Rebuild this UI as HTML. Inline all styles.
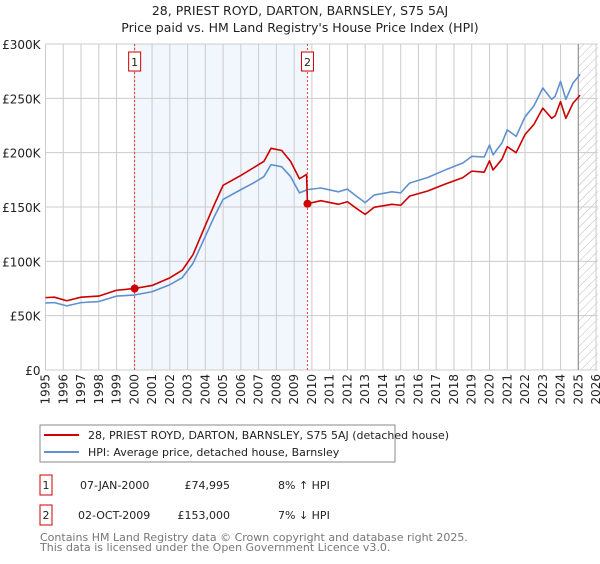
<!DOCTYPE html>
<html><head><meta charset="utf-8"><style>
body{margin:0;background:#fff;font-family:"DejaVu Sans","Liberation Sans",sans-serif;}
svg text{font-family:"DejaVu Sans","Liberation Sans",sans-serif;}
</style></head><body>
<svg id="c" width="600" height="560" xmlns="http://www.w3.org/2000/svg">
<defs><pattern id="hatch" width="6" height="6" patternUnits="userSpaceOnUse" patternTransform="rotate(45)"><line x1="0" y1="0" x2="0" y2="6" stroke="#bbb" stroke-width="1"/></pattern></defs>
<text x="300" y="15" text-anchor="middle" font-size="12.5" fill="#222">28, PRIEST ROYD, DARTON, BARNSLEY, S75 5AJ</text>
<text x="300" y="32" text-anchor="middle" font-size="12.5" fill="#222">Price paid vs. HM Land Registry's House Price Index (HPI)</text>
<g id="plot"></g>
<g>
<rect x="40" y="425" width="355" height="37" fill="#fff" stroke="#888"/>
<line x1="44" y1="435" x2="79" y2="435" stroke="#cc0000" stroke-width="2"/>
<text x="88" y="439" font-size="11" fill="#222">28, PRIEST ROYD, DARTON, BARNSLEY, S75 5AJ (detached house)</text>
<line x1="44" y1="452" x2="79" y2="452" stroke="#6090d0" stroke-width="2"/>
<text x="88" y="456" font-size="11" fill="#222">HPI: Average price, detached house, Barnsley</text>
</g>
<g font-size="11" fill="#222">
<rect x="40" y="475" width="12" height="20" fill="none" stroke="#cc0000"/>
<text x="46" y="489" text-anchor="middle">1</text>
<text x="80" y="489">07-JAN-2000</text>
<text x="230" y="489" text-anchor="end">£74,995</text>
<text x="278" y="489">8% ↑ HPI</text>
</g>
<g font-size="11" fill="#222">
<rect x="40" y="505" width="12" height="20" fill="none" stroke="#cc0000"/>
<text x="46" y="519" text-anchor="middle">2</text>
<text x="78" y="519">02-OCT-2009</text>
<text x="230" y="519" text-anchor="end">£153,000</text>
<text x="278" y="519">7% ↓ HPI</text>
</g>
<text x="40" y="541" font-size="11" fill="#777">Contains HM Land Registry data © Crown copyright and database right 2025.</text>
<text x="40" y="551" font-size="11" fill="#777">This data is licensed under the Open Government Licence v3.0.</text>
</svg>
<script>
const hpiT=[1995,1995.5,1996.2,1997,1998,1999,2000,2001,2002,2002.7,2003.3,2004,2004.5,2005,2006,2006.7,2007.3,2007.7,2008.3,2008.8,2009.3,2009.75,2010.5,2011.5,2012,2012.5,2013,2013.5,2014.5,2015,2015.5,2016.5,2017.5,2018.5,2019,2019.7,2020,2020.2,2020.7,2021,2021.5,2022,2022.5,2023,2023.5,2023.7,2024,2024.3,2024.7,2025,2025.1];
const hpiV=[61.7,62,59,62,63,68,69,72,78.5,85,98,123,141,157,166,172,178,189,187,178,163,166,167.5,164,166.5,160,154,161,164,163,172,177,184,190.5,196.6,196,207,198,209,221,215,233,243,259.5,249,252,265.6,249,264,270,272];
const redT=[1995,1995.5,1996.2,1997,1998,1999,2000.02,2001,2002,2002.7,2003.3,2004,2004.5,2005,2006,2006.7,2007.3,2007.7,2008.3,2008.8,2009.3,2009.7,2009.75,2010.5,2011.5,2012,2012.5,2013,2013.5,2014.5,2015,2015.5,2016.5,2017.5,2018.5,2019,2019.7,2020,2020.2,2020.7,2021,2021.5,2022,2022.5,2023,2023.5,2023.7,2024,2024.3,2024.7,2025,2025.1];
const redV=[66.6,67,63.7,67,68,73.4,75,77.8,84.8,91.8,106,133,152,170,179,186,192,204,202,192,176,180,153,155.8,152.5,154.8,148.8,143.2,149.7,152.5,151.6,160,164.6,171,177,183,182,192.5,184,194,205.5,200,216.7,226,241,231.6,234,247,231.6,245.5,251,253];
const saleT=[2000.02,2009.75];
const saleV=[74.995,153];
const yTicks=[0,50,100,150,200,250,300];
const yLabels=["£0","£50K","£100K","£150K","£200K","£250K","£300K"];
const xYears=[];for(let y=1995;y<=2026;y++)xYears.push(y);
const X0=45.5,PX=17.76,Y0=370,PY=326/300;
const x=t=>X0+(t-1995)*PX, y=v=>Y0-v*PY;
const NS="http://www.w3.org/2000/svg",g=document.getElementById('plot');
function mk(tag,a){const e=document.createElementNS(NS,tag);for(const k in a)e.setAttribute(k,a[k]);g.appendChild(e);return e;}
const L=x(1995),R=x(2026.1);
let e=mk('rect',{x:x(saleT[0]),y:y(300),width:x(saleT[1])-x(saleT[0]),height:y(0)-y(300),fill:'#eef3fc',opacity:0.75});


e=mk('rect',{x:x(2025),y:y(300),width:R-x(2025),height:y(0)-y(300),fill:'url(#hatch)'});


xYears.forEach(yr=>{
 let l=mk('line',{x1:x(yr),x2:x(yr),y1:y(300),y2:y(0),stroke:'#ccc','stroke-width':1});
 
 
 let t=mk('text',{x:0,y:0,'font-size':12,fill:'#222','text-anchor':'end',transform:`translate(${x(yr)+4},${y(0)+4}) rotate(-90)`});
 t.textContent=yr;
 
 
});
yTicks.forEach((v,i)=>{
 let l=mk('line',{x1:L,x2:R,y1:y(v),y2:y(v),stroke:'#ccc','stroke-width':1});
 
 
 let t=mk('text',{x:L-5,y:y(v)+5,'font-size':12,fill:'#222','text-anchor':'end'});
 t.textContent=yLabels[i];
 
 
});
e=mk('line',{x1:x(2025),x2:x(2025),y1:y(300),y2:y(0),stroke:'#888'});


saleT.forEach((t,i)=>{
 let l=mk('line',{x1:x(t),x2:x(t),y1:y(300),y2:y(0),stroke:'#e04040','stroke-dasharray':'2,2'});
 
 
 let r=mk('rect',{x:x(t)-6,y:y(300)+8,width:12,height:19,fill:'#fff',stroke:'#cc0000'});
 
 
 let tx=mk('text',{x:x(t),y:y(300)+22,'font-size':11,fill:'#222','text-anchor':'middle'});
 tx.textContent=i+1;
 
 
});
function line(T,V,col,name){
 let p=mk('polyline',{points:T.map((t,i)=>x(t)+','+y(V[i])).join(' '),fill:'none',stroke:col,'stroke-width':1.6,'stroke-linejoin':'round'});
 
 
}
line(hpiT,hpiV,'#6090d0','hpi-line');
line(redT,redV,'#cc0000','property-line');
saleT.forEach((t,i)=>{
 let c=mk('circle',{cx:x(t),cy:y(saleV[i]),r:4,fill:'#cc0000'});
 
 
});
</script>
</body></html>
